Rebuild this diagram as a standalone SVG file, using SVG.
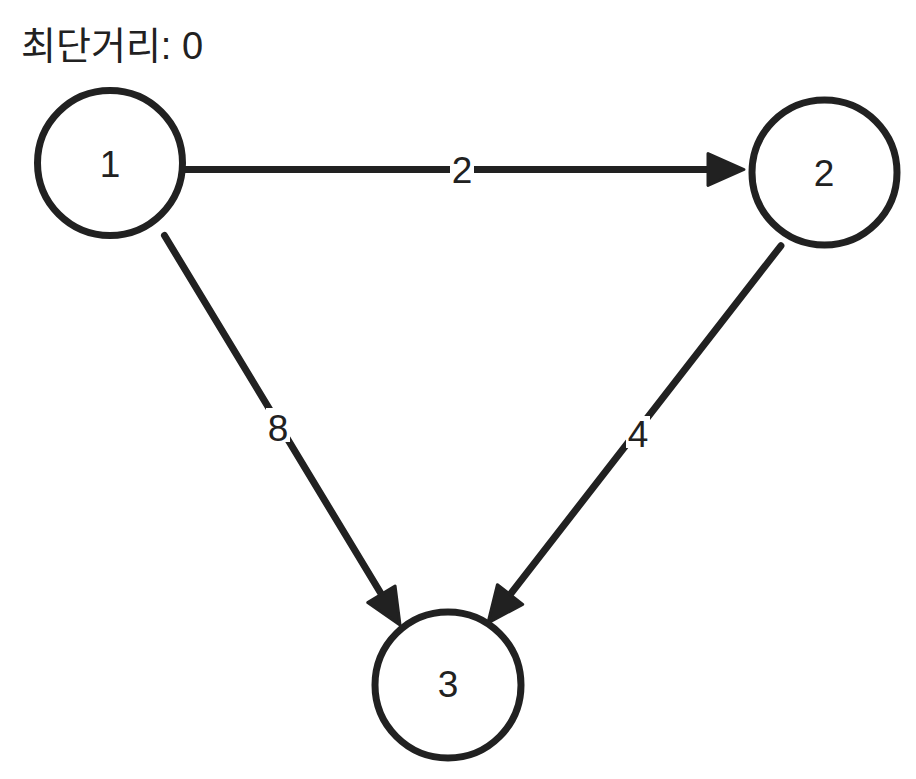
<svg xmlns="http://www.w3.org/2000/svg" width="916" height="779" viewBox="0 0 916 779">
  <style>
    .node circle { fill: #ffffff; stroke: #212121; stroke-width: 7; }
    .node text, .lbl text { font-family: "Liberation Sans", Arial, sans-serif; font-size: 37px; fill: #212121; text-anchor: middle; }
    .edge { stroke: #212121; stroke-width: 7; fill: none; stroke-linecap: round; }
    .lbl rect { fill: #ffffff; }
    .title { font-family: "Liberation Sans", "Noto Sans CJK KR", sans-serif; font-size: 38px; fill: #212121; }
  </style>
  <defs>
    <marker id="arrow" markerUnits="userSpaceOnUse" markerWidth="44" markerHeight="44" refX="14" refY="20" orient="auto" overflow="visible">
      <path d="M2,4 L38,20 L2,36 Z" fill="#212121" stroke="#212121" stroke-width="3" stroke-linejoin="round"/>
    </marker>
  </defs>
  <rect width="916" height="779" fill="#ffffff"/>
  <text class="title" x="21" y="59">최단거리: 0</text>
  <g id="connectors">
    <line class="edge" x1="185" y1="169.5" x2="720" y2="169.5" marker-end="url(#arrow)" style="stroke-linecap:butt"/>
    <line class="edge" x1="164.5" y1="235.5" x2="387.6" y2="604.5" marker-end="url(#arrow)"/>
    <line class="edge" x1="780.9" y1="245.8" x2="502.7" y2="604" marker-end="url(#arrow)"/>
    <g class="lbl">
      <rect x="450" y="152" width="24" height="34"/>
      <text x="462" y="183">2</text>
      <rect x="266" y="408" width="24" height="34"/>
      <text x="278" y="441">8</text>
      <rect x="626" y="416" width="24" height="32"/>
      <text x="638" y="447">4</text>
    </g>
  </g>
  <g id="node1" class="node">
    <circle cx="110" cy="163" r="72.5"/>
    <text x="110" y="177">1</text>
  </g>
  <g id="node2" class="node">
    <circle cx="824.5" cy="172.5" r="72.5"/>
    <text x="824" y="186">2</text>
  </g>
  <g id="node3" class="node">
    <circle cx="448" cy="685" r="73"/>
    <text x="448" y="697">3</text>
  </g>
</svg>
